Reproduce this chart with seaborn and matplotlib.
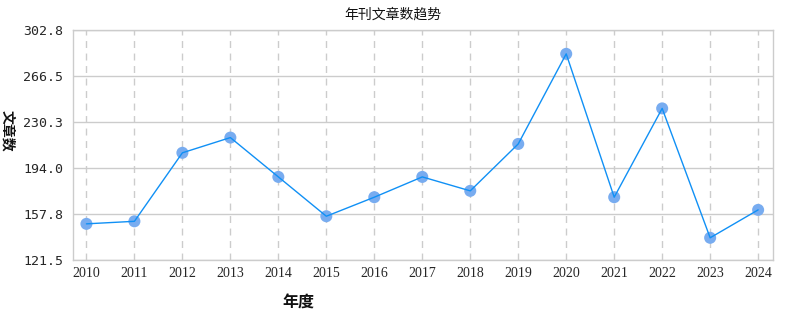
import numpy as np
import pandas as pd
import matplotlib
matplotlib.use("Agg")
import matplotlib.pyplot as plt
import seaborn as sns

# =========================
# Data
# =========================
years = [2010, 2011, 2012, 2013, 2014, 2015, 2016, 2017,
         2018, 2019, 2020, 2021, 2022, 2023, 2024]
counts = [150, 152, 206, 218, 187, 156, 171, 187,
          176, 213, 284, 171, 241, 139, 161]
y_ticks = [121.5, 157.8, 194.0, 230.3, 266.5, 302.8]

df = pd.DataFrame({"year": years, "count": counts})

# =========================
# Style
# =========================
sns.set_style("white")
plt.rcParams['font.family'] = ['Noto Sans CJK SC', 'DejaVu Sans']

fig = plt.figure(figsize=(7.98, 3.30), dpi=100)
ax = fig.add_axes([73 / 798, 1 - 260 / 330, 700 / 798, 230 / 330])

# markers under the line (line is drawn through them)
sns.scatterplot(
    data=df, x="year", y="count", ax=ax,
    color="#78acf0", s=75, edgecolor="none", zorder=3
)
sns.lineplot(
    data=df, x="year", y="count", ax=ax,
    color="#1090f5", linewidth=1.0, zorder=4
)

ax.set_xlim(years[0] - 0.28, years[-1] + 0.31)
ax.set_ylim(y_ticks[0], y_ticks[-1])
ax.set_yticks(y_ticks)
ax.set_yticklabels([f"{v:.1f}" for v in y_ticks],
                   family="DejaVu Sans Mono", fontsize=9.5)
ax.set_xticks(years)
ax.set_xticklabels([str(y) for y in years],
                   family="Liberation Serif", fontsize=10)
ax.tick_params(axis="both", length=0)
ax.tick_params(axis="y", pad=7)
ax.tick_params(axis="x", pad=5)

# grid
ax.grid(False)
for v in y_ticks:
    ax.axhline(v, color="#cccccc", linewidth=1.0, zorder=1)
for yr in years:
    ax.axvline(yr, color="#cccccc", linewidth=1.0,
               linestyle=(0, (5, 4)), zorder=1)

for s in ax.spines.values():
    s.set_color("#cccccc")
    s.set_linewidth(1.0)

ax.set_xlabel("")
ax.set_ylabel("")

# labels
fig.text(393 / 798, 1 - 15 / 330, "年刊文章数趋势",
         ha="center", va="center", fontsize=10, color="#111111")
fig.text(298 / 798, 1 - 303 / 330, "年度",
         ha="center", va="center", fontsize=11.5, fontweight="bold",
         color="#111111")
fig.text(7 / 798, 1 - 131 / 330, "文章数",
         ha="center", va="center", fontsize=10, fontweight="bold",
         rotation=-90, color="#111111")

plt.savefig("out.png", dpi=100)
